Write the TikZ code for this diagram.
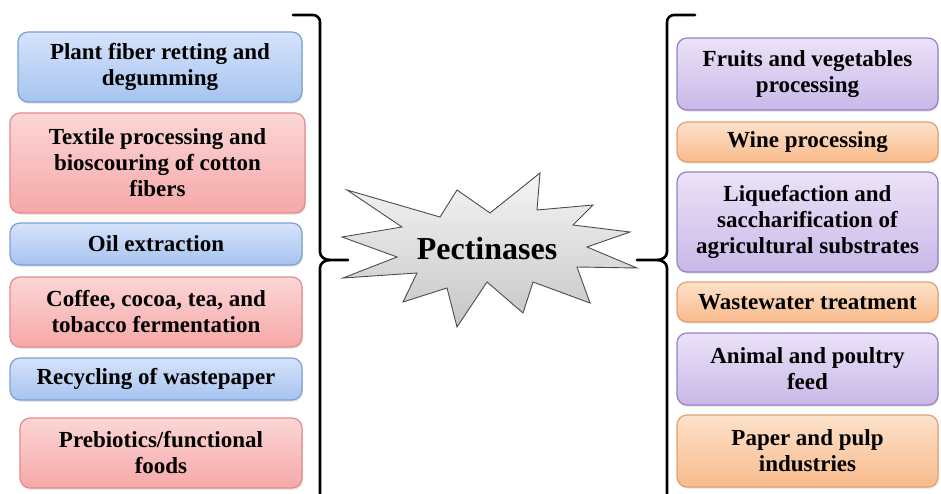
\documentclass[tikz,border=0pt]{standalone}
\usepackage{fontspec}
\setmainfont{Liberation Serif}
\usetikzlibrary{positioning,shadows}

\begin{document}
\begin{tikzpicture}[x=1pt,y=-1pt,
	every node/.style={font=\bfseries\fontsize{23}{26}\selectfont,align=center},
	appbox/.style={rounded corners=10pt,line width=1.2pt,inner sep=2pt,
		drop shadow={opacity=0.25,shadow xshift=0.8pt,shadow yshift=-1.6pt}},
	bluebox/.style={appbox,draw={rgb,255:red,125;green,160;blue,215},
		top color={rgb,255:red,214;green,226;blue,250},bottom color={rgb,255:red,166;green,196;blue,240}},
	redbox/.style={appbox,draw={rgb,255:red,226;green,140;blue,140},
		top color={rgb,255:red,252;green,214;blue,214},bottom color={rgb,255:red,246;green,168;blue,168}},
	violetbox/.style={appbox,draw={rgb,255:red,150;green,130;blue,196},
		top color={rgb,255:red,236;green,226;blue,248},bottom color={rgb,255:red,200;green,184;blue,232}},
	orangebox/.style={appbox,draw={rgb,255:red,228;green,160;blue,110},
		top color={rgb,255:red,253;green,226;blue,204},bottom color={rgb,255:red,248;green,186;blue,138}},
	bracket/.style={line width=2.6pt,line cap=round}
	]
	\useasboundingbox (0,0) rectangle (941,494);
	
	% left applications
	\node[bluebox,minimum width=284pt,minimum height=70pt] (l1) at (160,67) {Plant fiber retting and\\degumming};
	\node[redbox,minimum width=295pt,minimum height=100pt] (l2) at (157.5,163) {Textile processing and\\bioscouring of cotton\\fibers};
	\node[bluebox,minimum width=292pt,minimum height=42pt] (l3) at (156,244) {Oil extraction};
	\node[redbox,minimum width=292pt,minimum height=70pt] (l4) at (156,312) {Coffee, cocoa, tea, and\\tobacco fermentation};
	\node[bluebox,minimum width=292pt,minimum height=42pt] (l5) at (156,379) {Recycling of wastepaper};
	\node[redbox,minimum width=282pt,minimum height=70pt] (l6) at (161,453) {Prebiotics/functional\\foods};
	
	% right applications
	\node[violetbox,minimum width=261pt,minimum height=72pt] (r1) at (807.5,74) {Fruits and vegetables\\processing};
	\node[orangebox,minimum width=261pt,minimum height=40pt] (r2) at (807.5,142) {Wine processing};
	\node[violetbox,minimum width=261pt,minimum height=100pt] (r3) at (807.5,222) {Liquefaction and\\saccharification of\\agricultural substrates};
	\node[orangebox,minimum width=261pt,minimum height=40pt] (r4) at (807.5,302) {Wastewater treatment};
	\node[violetbox,minimum width=261pt,minimum height=72pt] (r5) at (807.5,369) {Animal and poultry\\feed};
	\node[orangebox,minimum width=261pt,minimum height=72pt] (r6) at (807.5,451) {Paper and pulp\\industries};
	
	% the star
	\draw[line width=0.9pt,draw=black!70,top color=gray!8,bottom color=gray!45]
		(347,190) -- (440,217) -- (457,190) -- (490,213) -- (540,173) -- (537,210)
		-- (593,205) -- (573,225) -- (630,232) -- (587,247) -- (637,268) -- (577,267)
		-- (590,303) -- (533,282) -- (523,313) -- (487,282) -- (457,327) -- (447,288)
		-- (403,302) -- (417,273) -- (343,278) -- (397,257) -- (342,237) -- (402,227) -- cycle;
	\node[font=\bfseries\fontsize{32}{36}\selectfont] (pect) at (487,249) {Pectinases};
	
	% the brackets
	\draw[bracket] (293,15) -- (313,15) to[out=0,in=90] (320,22) -- (320,252)
		to[out=-90,in=180] (330,260) -- (348,260);
	\draw[bracket] (330,260) to[out=180,in=90] (320,268) -- (320,500);
	\draw[bracket] (695,15) -- (674,15) to[out=180,in=90] (667,22) -- (667,252)
		to[out=-90,in=0] (657,260) -- (637,260);
	\draw[bracket] (657,260) to[out=0,in=90] (667,268) -- (667,500);
\end{tikzpicture}
\end{document}
